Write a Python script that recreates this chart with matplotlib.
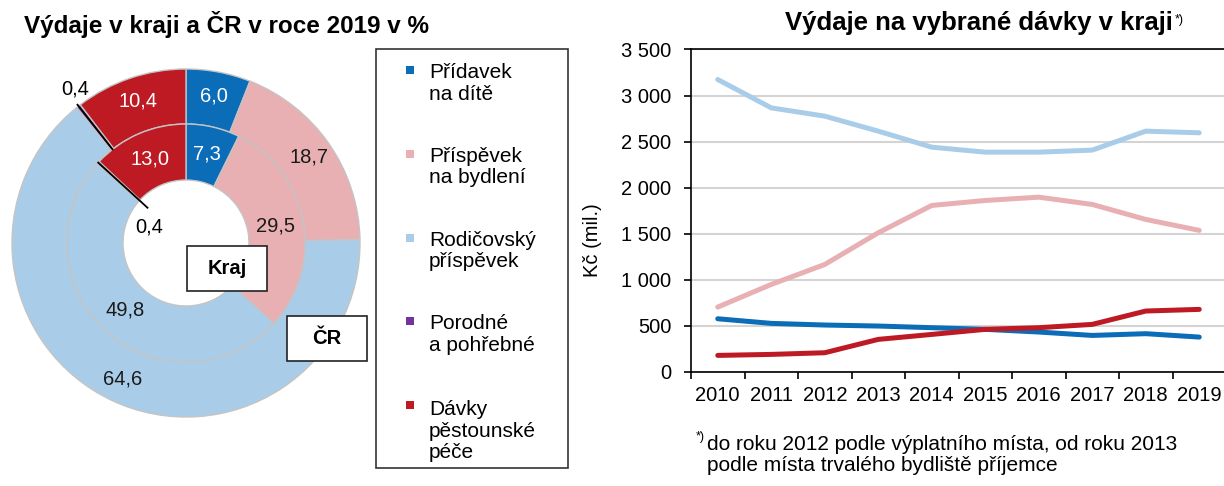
import matplotlib.pyplot as plt
from matplotlib.patches import Rectangle
import numpy as np

plt.rcParams['font.family'] = ['Liberation Sans', 'DejaVu Sans']

# pie data (shares in %)
categories = ['Přídavek\nna dítě', 'Příspěvek\nna bydlení', 'Rodičovský\npříspěvek',
              'Porodné\na pohřebné', 'Dávky\npěstounské\npéče']
colors = ['#0b6cb8', '#e8b0b3', '#a9cde8', '#7232a0', '#bd1a24']
label_colors = ['white', '#1a1a1a', '#1a1a1a', '#1a1a1a', 'white']
cr_share = [6.0, 18.7, 64.6, 0.4, 10.4]
kraj_share = [7.3, 29.5, 49.8, 0.4, 13.0]

# line data (Kč mil.)
years = ['2010', '2011', '2012', '2013', '2014', '2015', '2016', '2017', '2018', '2019']
pridavek = [575, 525, 507, 496, 478, 460, 431, 394, 413, 376]
bydleni = [702, 948, 1165, 1509, 1806, 1860, 1896, 1817, 1654, 1535]
rodicovsky = [3174, 2866, 2776, 2613, 2439, 2385, 2385, 2407, 2613, 2595]
pestounske = [177, 188, 206, 351, 405, 460, 478, 514, 659, 677]

W, H = 1224, 486
fig = plt.figure(figsize=(W / 100, H / 100), dpi=100)


def fx(x):
    return x / W


def fy(y):
    return 1 - y / H


def fmt(v):
    return f'{v:.1f}'.replace('.', ',')


# ---- left: double donut ----
fig.text(fx(24), fy(33), 'Výdaje v kraji a ČR v roce 2019 v %', fontsize=17.5,
         fontweight='bold', va='baseline', ha='left')

cx, cy, R = 186, 243, 174
ax_pie = fig.add_axes([(cx - R) / W, 1 - (cy + R) / H, 2 * R / W, 2 * R / H])
r_in = 119 / R
hole = 63 / R
edge = dict(edgecolor='#c4c4c4', linewidth=1)
w_out, _ = ax_pie.pie(cr_share, radius=1, colors=colors, startangle=90, counterclock=False,
                      wedgeprops=dict(width=1 - r_in, **edge))
w_in, _ = ax_pie.pie(kraj_share, radius=r_in, colors=colors, startangle=90, counterclock=False,
                     wedgeprops=dict(width=r_in - hole, **edge))
for w in w_out + w_in:
    w.set_clip_on(False)
ax_pie.set_xlim(-1, 1)
ax_pie.set_ylim(-1, 1)
ax_pie.axis('off')


def ring_labels(wedges, values, rmid):
    for w, v, c in zip(wedges, values, label_colors):
        ang = np.deg2rad((w.theta1 + w.theta2) / 2)
        if v < 1:
            continue
        ax_pie.text(rmid * np.cos(ang), rmid * np.sin(ang), fmt(v), ha='center', va='center',
                    color=c, fontsize=14.5)


ring_labels(w_out, cr_share, (1 + r_in) / 2 + 0.02)
ring_labels(w_in, kraj_share, (r_in + hole) / 2)

# small slices with leader lines
a = np.deg2rad((w_out[3].theta1 + w_out[3].theta2) / 2)
ax_pie.plot([1.01 * np.cos(a), r_in * np.cos(a)], [1.01 * np.sin(a), r_in * np.sin(a)],
            color='black', lw=1.3, clip_on=False)
ax_pie.annotate(fmt(cr_share[3]), xy=(1.01 * np.cos(a), 1.01 * np.sin(a)), xytext=(-2, 11),
                textcoords='offset points', ha='center', va='center', fontsize=14.5,
                annotation_clip=False)
a = np.deg2rad((w_in[3].theta1 + w_in[3].theta2) / 2)
ax_pie.plot([r_in * np.cos(a), 0.30 * np.cos(a)], [r_in * np.sin(a), 0.30 * np.sin(a)],
            color='black', lw=1.3, clip_on=False)
ax_pie.annotate(fmt(kraj_share[3]), xy=(0.30 * np.cos(a), 0.30 * np.sin(a)), xytext=(1, -14),
                textcoords='offset points', ha='center', va='center', fontsize=14.5,
                annotation_clip=False)

# ring name boxes
for name, (bx, by) in [('Kraj', (187, 246)), ('ČR', (287, 316))]:
    fig.add_artist(Rectangle((fx(bx), fy(by + 45)), 80 / W, 45 / H, transform=fig.transFigure,
                             facecolor='white', edgecolor='#222222', lw=1.2))
    fig.text(fx(bx + 40), fy(by + 22.5), name, ha='center', va='center', fontsize=14.5,
             fontweight='bold')

# legend
fig.add_artist(Rectangle((fx(376), fy(468)), 192 / W, 419 / H, transform=fig.transFigure,
                         fill=False, edgecolor='#333333', lw=1.2))
for i, (lab, col) in enumerate(zip(categories, colors)):
    base = 76 + i * 83.8
    fig.add_artist(Rectangle((fx(406), fy(base - 2)), 8 / W, 8 / H, transform=fig.transFigure,
                             facecolor=col, edgecolor='none'))
    fig.text(fx(429), fy(base + 23.5 * lab.count('\n')), lab, ha='left', va='baseline',
             fontsize=15, linespacing=1.17)

# ---- right: line chart ----
ax = fig.add_axes([691 / W, 1 - 371.7 / H, 535 / W, 322.2 / H])
x = np.arange(len(years))
for vals, col in [(pridavek, colors[0]), (bydleni, colors[1]), (rodicovsky, colors[2]),
                  (pestounske, colors[4])]:
    ax.plot(x, vals, color=col, lw=3.6, solid_capstyle='round', solid_joinstyle='round')

ax.set_xlim(-0.5, len(years) - 0.5)
ax.set_ylim(0, 3500)
ax.set_yticks(np.arange(0, 3501, 500))
ax.set_yticklabels([f'{v:,}'.replace(',', ' ') for v in range(0, 3501, 500)])
ax.set_xticks(x)
ax.set_xticklabels(years)
ax.set_xticks(np.arange(-0.5, len(years), 1), minor=True)
ax.yaxis.grid(True, color='#d4d4d4', lw=1.5)
ax.set_axisbelow(True)
ax.spines['right'].set_visible(False)
for s in ['left', 'bottom', 'top']:
    ax.spines[s].set_linewidth(1.2)
ax.tick_params(axis='y', length=5, width=1.2, pad=9, labelsize=14.5)
ax.tick_params(axis='x', which='major', length=0, pad=10, labelsize=14.5)
ax.tick_params(axis='x', which='minor', length=5, width=1.2)
ax.set_ylabel('Kč (mil.)', fontsize=14.5)
ax.yaxis.set_label_coords(-0.166, 0.409)

t = fig.text(fx(785), fy(30), 'Výdaje na vybrané dávky v kraji', fontsize=18.5,
             fontweight='bold', va='baseline', ha='left')
fig.text(0, 0, '')
ann = plt.annotate('*)', xy=(1, 1), xycoords=t, xytext=(1.5, -2), textcoords='offset points',
                   fontsize=9, ha='left', va='top')

note = fig.text(fx(707), fy(471), 'do roku 2012 podle výplatního místa, od roku 2013\n'
                'podle místa trvalého bydliště příjemce', fontsize=15, va='baseline',
                ha='left', linespacing=1.12)
fig.text(fx(705), fy(437), '*)', fontsize=9, ha='right', va='center')

fig.savefig('out.png', dpi=100)
